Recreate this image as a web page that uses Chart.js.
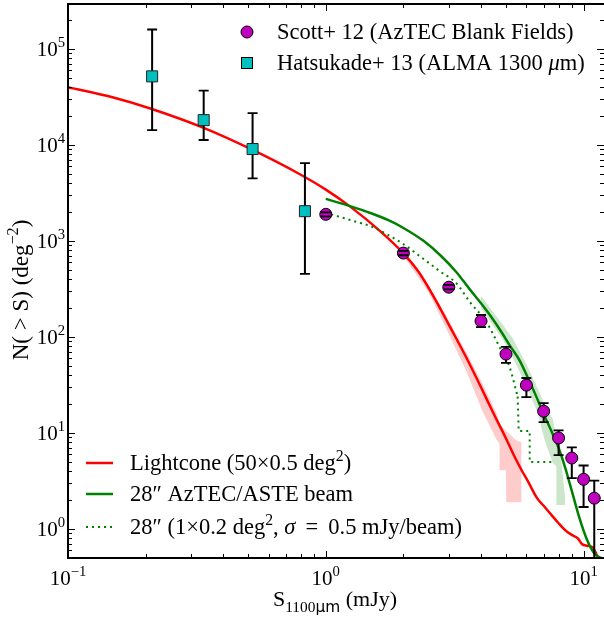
<!DOCTYPE html>
<html>
<head>
<meta charset="utf-8">
<script src="https://cdn.jsdelivr.net/npm/chart.js@4.4.0/dist/chart.umd.min.js"></script>
<style>
  html, body { margin: 0; padding: 0; background: #fff; }
</style>
</head>
<body>
<canvas id="countsChart" width="604" height="623"></canvas>
<script>
// Scott+ 12 (AzTEC blank fields)
const scottFlux = [1, 2, 3, 4, 5, 6, 7, 8, 9, 10, 11];
const scottN = [1900, 750, 331, 147, 66.5, 31.6, 16.9, 8.9, 5.5, 3.3, 2.1];
const scottHi = [1990, 790, 350, 170, 79, 37.5, 20.5, 10.7, 7.1, 4.6, 3.2];
const scottLo = [1810, 712, 314, 127, 54, 23.7, 13, 5.9, 3.4, 1.7, 0.3];

// Hatsukade+ 13 (ALMA 1300um)
const hatsFlux = [0.212, 0.336, 0.52, 0.83];
const hatsN = [52000, 18200, 9100, 2050];
const hatsHi = [160000, 37000, 21500, 6500];
const hatsLo = [14300, 11300, 4500, 455];

// lightcone counts (red)
const coneFlux = [0.1, 0.15, 0.21, 0.336, 0.52, 0.79, 1.0, 1.24, 1.6, 2.0, 2.3, 2.65, 3.0, 3.5, 4.0,
  4.5, 5.0, 5.45, 5.75, 6.1, 6.6, 7.0, 7.6, 8.0, 8.5, 9.0, 9.5, 9.85, 10.3, 10.8, 11.1, 11.4, 12];
const coneN = [40000, 31300, 23900, 15100, 8900, 5000, 3440, 2300, 1316, 745, 470, 250, 135, 62, 30,
  15.5, 8.8, 5.4, 4.1, 3.1, 2.1, 1.75, 1.35, 1.15, 0.97, 0.87, 0.8, 0.7, 0.67, 0.65, 0.58, 0.5, 0.47];

// 28" AzTEC/ASTE beam (green solid)
const beamFlux = [1.0, 1.25, 1.5, 1.75, 2.0, 2.4, 2.8, 3.2, 3.6, 4.0, 4.4, 4.8, 5.2, 5.65, 6.1, 6.6,
  7.06, 7.5, 8.0, 8.5, 9.0, 9.6, 10.3, 11.0, 12];
const beamN = [2750, 2300, 1950, 1650, 1370, 1000, 700, 480, 320, 225, 160, 113, 80, 57, 37, 23,
  15, 10.5, 7.0, 4.3, 2.5, 1.35, 0.78, 0.56, 0.48];

// 28" beam, 1x0.2 deg2 map with noise (green dotted): smooth part, then steps
const mapFlux = [1.05, 1.3, 1.52, 2.0, 2.31, 2.77, 3.22, 3.62, 4.2, 4.72, 5.16, 5.55];
const mapN = [1900, 1600, 1400, 930, 700, 485, 360, 232, 143, 79, 49, 24];
const mapStepFlux = [5.55, 5.6, 6.18, 6.18, 7.73];
const mapStepN = [24, 10.5, 10.5, 5.0, 5.0];

// scatter bands
const coneBandFlux = [2.0, 2.5, 3.0, 3.5, 4.05, 4.6, 4.72, 4.73, 5.0, 5.01, 5.45, 5.75];
const coneBandHi = [800, 350, 150, 70, 33, 16, 13, 12.5, 10.5, 10.5, 8.5, 8.0];
const coneBandLo = [700, 295, 108, 45, 17, 8.5, 7.8, 4.1, 4.1, 1.9, 1.9, 1.9];

const beamBandFlux = [4.0, 4.85, 5.3, 6.0, 6.64, 7.06, 7.59, 7.84, 7.85, 8.2, 8.5];
const beamBandHi = [270, 135, 98, 52, 29, 20, 14, 9, 8.4, 5.0, 2.0];
const beamBandLo = [200, 95, 62, 31, 16.3, 8.4, 4.9, 4.5, 1.78, 1.78, 1.78];

const xTickPowers = [-1, 0, 1];
const yTickPowers = [0, 1, 2, 3, 4, 5];

const FONT = '"Liberation Serif", "DejaVu Serif", serif';

function pts(xs, ys) {
  return xs.map((x, i) => ({ x: x, y: ys[i] }));
}

const errBars = {
  scott: { hi: scottHi, lo: scottLo },
  hats: { hi: hatsHi, lo: hatsLo }
};

// draw text made of pieces (sup / sub / italic)
function drawRich(ctx, x, y, parts, size, measureOnly) {
  let cx = x;
  parts.forEach(p => {
    let s = size, dy = 0;
    if (p.sup) { s = size * 0.7; dy = -size * 0.42; }
    if (p.sub) { s = size * 0.7; dy = size * 0.25; }
    const fam = p.sans ? '"DejaVu Sans", sans-serif' : FONT;
    ctx.font = (p.italic ? 'italic ' : '') + s + 'px ' + fam;
    if (!measureOnly) ctx.fillText(p.t, cx, y + dy);
    cx += ctx.measureText(p.t).width;
  });
  return cx - x;
}

function clipArea(ctx, a) {
  ctx.beginPath();
  ctx.rect(a.left, a.top, a.right - a.left, a.bottom - a.top);
  ctx.clip();
}

const errorBarPlugin = {
  id: 'errorBars',
  beforeDatasetDraw(chart, args) {
    const ds = chart.data.datasets[args.index];
    const eb = errBars[ds.key];
    if (!eb) return;
    const ctx = chart.ctx, xs = chart.scales.x, ys = chart.scales.y;
    ctx.save();
    clipArea(ctx, chart.chartArea);
    ctx.strokeStyle = '#000';
    ctx.lineWidth = 2;
    ctx.beginPath();
    ds.data.forEach((p, i) => {
      const px = xs.getPixelForValue(p.x);
      ctx.moveTo(px, ys.getPixelForValue(eb.hi[i]));
      ctx.lineTo(px, ys.getPixelForValue(eb.lo[i]));
    });
    ctx.stroke();
    ctx.restore();
  },
  afterDatasetDraw(chart, args) {
    const ds = chart.data.datasets[args.index];
    const eb = errBars[ds.key];
    if (!eb) return;
    const ctx = chart.ctx, xs = chart.scales.x, ys = chart.scales.y;
    ctx.save();
    clipArea(ctx, chart.chartArea);
    ctx.strokeStyle = '#000';
    ctx.lineWidth = 1.8;
    ctx.beginPath();
    ds.data.forEach((p, i) => {
      const px = xs.getPixelForValue(p.x);
      [eb.hi[i], eb.lo[i]].forEach(v => {
        const py = ys.getPixelForValue(v);
        ctx.moveTo(px - 5, py);
        ctx.lineTo(px + 5, py);
      });
    });
    ctx.stroke();
    ctx.restore();
  }
};

const decorPlugin = {
  id: 'decor',
  afterDraw(chart) {
    const ctx = chart.ctx, xs = chart.scales.x, ys = chart.scales.y, a = chart.chartArea;
    ctx.save();
    ctx.fillStyle = '#000';
    ctx.strokeStyle = '#000';

    // inward ticks on all four sides
    ctx.lineWidth = 1;
    ctx.beginPath();
    for (let n = -2; n <= 6; n++) {
      for (let k = 1; k <= 9; k++) {
        const v = k * Math.pow(10, n);
        const len = k === 1 ? 7 : 4;
        if (v >= xs.min && v <= xs.max) {
          const px = Math.round(xs.getPixelForValue(v)) + 0.5;
          ctx.moveTo(px, a.bottom); ctx.lineTo(px, a.bottom - len);
          ctx.moveTo(px, a.top); ctx.lineTo(px, a.top + len);
        }
        if (v >= ys.min && v <= ys.max) {
          const py = Math.round(ys.getPixelForValue(v)) + 0.5;
          ctx.moveTo(a.left, py); ctx.lineTo(a.left + len, py);
          ctx.moveTo(a.right, py); ctx.lineTo(a.right - len, py);
        }
      }
    }
    ctx.stroke();

    // frame (right side falls at the canvas edge)
    ctx.lineWidth = 2;
    ctx.beginPath();
    ctx.moveTo(a.right + 2, a.top); ctx.lineTo(a.left, a.top);
    ctx.lineTo(a.left, a.bottom); ctx.lineTo(a.right + 2, a.bottom);
    ctx.stroke();

    // tick labels
    ctx.textBaseline = 'alphabetic';
    ctx.textAlign = 'left';
    const tsize = 21;
    yTickPowers.forEach(n => {
      const py = ys.getPixelForValue(Math.pow(10, n));
      const parts = [{ t: '10' }, { t: String(n), sup: true }];
      const w = drawRich(ctx, 0, 0, parts, tsize, true);
      drawRich(ctx, 65 - w, py + 7, parts, tsize);
    });
    xTickPowers.forEach(n => {
      const px = xs.getPixelForValue(Math.pow(10, n));
      const parts = [{ t: '10' }, { t: n < 0 ? '\u2212' + (-n) : String(n), sup: true }];
      const w = drawRich(ctx, 0, 0, parts, tsize, true);
      drawRich(ctx, px - w / 2, 585, parts, tsize);
    });

    // axis titles
    const xTitle = [{ t: 'S' }, { t: '1100', sub: true }, { t: '\u03bcm', sub: true, sans: true }, { t: ' (mJy)' }];
    const xw = drawRich(ctx, 0, 0, xTitle, 22, true);
    drawRich(ctx, 335 - xw / 2, 606, xTitle, 22);

    const yTitle = [{ t: 'N( > S) (deg' }, { t: '\u22122', sup: true }, { t: ')' }];
    const yw = drawRich(ctx, 0, 0, yTitle, 23, true);
    ctx.save();
    ctx.translate(28, 290);
    ctx.rotate(-Math.PI / 2);
    drawRich(ctx, -yw / 2, 0, yTitle, 23);
    ctx.restore();

    // upper legend (data points)
    const lsize = 22.5;
    ctx.lineWidth = 1;
    ctx.fillStyle = '#bf00bf';
    ctx.beginPath(); ctx.arc(247, 32, 6, 0, Math.PI * 2); ctx.fill(); ctx.stroke();
    ctx.fillStyle = '#00bfbf';
    ctx.fillRect(241.5, 57.5, 11, 11); ctx.strokeRect(241.5, 57.5, 11, 11);
    ctx.fillStyle = '#000';
    drawRich(ctx, 277, 39, [{ t: 'Scott+ 12 (AzTEC Blank Fields)' }], lsize);
    drawRich(ctx, 277, 70, [{ t: 'Hatsukade+ 13 (ALMA 1300 ' }, { t: '\u03bc', italic: true }, { t: 'm)' }], lsize);

    // lower legend (models)
    const rows = [
      { y: 463, color: '#ff0000', dash: [], parts: [{ t: 'Lightcone (50\u00d70.5 deg' }, { t: '2', sup: true }, { t: ')' }] },
      { y: 494, color: '#008000', dash: [], parts: [{ t: '28\u2033 AzTEC/ASTE beam' }] },
      { y: 527, color: '#008000', dash: [2, 4], parts: [{ t: '28\u2033 (1\u00d70.2 deg' }, { t: '2', sup: true },
        { t: ', ' }, { t: '\u03c3', italic: true }, { t: ' \u2009=\u2009 0.5 mJy/beam)' }] }
    ];
    rows.forEach(r => {
      ctx.strokeStyle = r.color;
      ctx.lineWidth = r.dash.length ? 2 : 2.5;
      ctx.setLineDash(r.dash);
      ctx.beginPath(); ctx.moveTo(86, r.y); ctx.lineTo(113, r.y); ctx.stroke();
      ctx.setLineDash([]);
      ctx.fillStyle = '#000';
      drawRich(ctx, 130, r.y + 7, r.parts, lsize);
    });
    ctx.restore();
  }
};

const smooth = { showLine: true, pointRadius: 0, cubicInterpolationMode: 'monotone' };

new Chart(document.getElementById('countsChart'), {
  type: 'scatter',
  data: {
    datasets: [
      { data: pts(coneBandFlux, coneBandHi), showLine: true, pointRadius: 0, borderWidth: 0,
        backgroundColor: 'rgba(255,0,0,0.2)', fill: '+1', order: 20 },
      { data: pts(coneBandFlux, coneBandLo), showLine: true, pointRadius: 0, borderWidth: 0, fill: false, order: 21 },
      { data: pts(beamBandFlux, beamBandHi), showLine: true, pointRadius: 0, borderWidth: 0,
        backgroundColor: 'rgba(0,128,0,0.2)', fill: '+1', order: 18 },
      { data: pts(beamBandFlux, beamBandLo), showLine: true, pointRadius: 0, borderWidth: 0, fill: false, order: 19 },
      { ...smooth, data: pts(coneFlux, coneN), borderColor: '#ff0000', borderWidth: 2.5, order: 10 },
      { ...smooth, data: pts(beamFlux, beamN), borderColor: '#008000', borderWidth: 2.5, order: 9 },
      { ...smooth, data: pts(mapFlux, mapN), borderColor: '#008000', borderWidth: 2, borderDash: [2, 4], order: 8 },
      { data: pts(mapStepFlux, mapStepN), showLine: true, pointRadius: 0, borderColor: '#008000', borderWidth: 2,
        borderDash: [2, 4], order: 7 },
      { key: 'scott', data: pts(scottFlux, scottN), pointStyle: 'circle', pointRadius: 6,
        backgroundColor: '#bf00bf', borderColor: '#000', borderWidth: 1, order: 2 },
      { key: 'hats', data: pts(hatsFlux, hatsN), pointStyle: 'rect', pointRadius: 7.8,
        backgroundColor: '#00bfbf', borderColor: '#222', borderWidth: 1, order: 1 }
    ]
  },
  options: {
    responsive: false,
    animation: false,
    events: [],
    layout: { autoPadding: false, padding: { left: 68, right: 0, top: 4, bottom: 65 } },
    plugins: { legend: { display: false }, tooltip: { enabled: false } },
    scales: {
      x: { type: 'logarithmic', min: 0.1, max: 12, ticks: { display: false },
        grid: { display: false, drawTicks: false }, border: { display: false } },
      y: { type: 'logarithmic', min: 0.5, max: 2.95e5, ticks: { display: false },
        grid: { display: false, drawTicks: false }, border: { display: false } }
    }
  },
  plugins: [errorBarPlugin, decorPlugin]
});
</script>
</body>
</html>
